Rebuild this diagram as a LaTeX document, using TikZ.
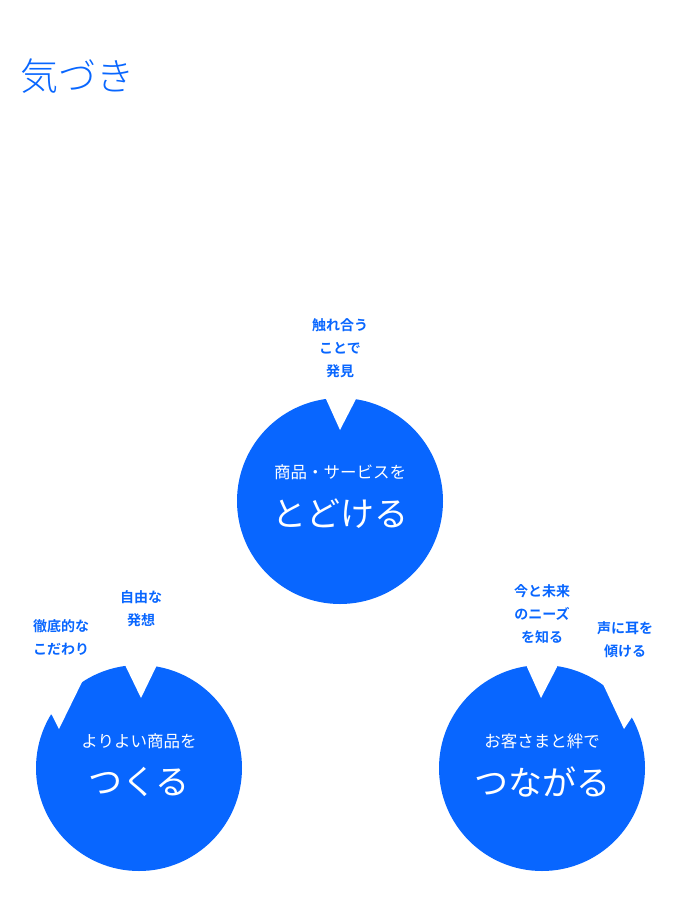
\documentclass[tikz,border=0pt]{standalone}
\usepackage{fontspec}
\setmainfont{Noto Sans CJK JP}
\newfontfamily\jpb{Noto Sans CJK JP Bold}
\newfontfamily\jpl{Noto Sans CJK JP Light}
\begin{document}
\begin{tikzpicture}[x=1pt,y=-1pt,
  lbl/.style={text=cblue,font=\jpb\fontsize{14}{23}\selectfont,align=center,inner sep=0},
  sub/.style={text=white,font=\fontsize{16.5}{20}\selectfont,inner sep=0},
  big/.style={text=white,font=\fontsize{34}{40}\selectfont,inner sep=0},
  bub/.style={fill=cblue,draw=none}]
\definecolor{cblue}{HTML}{0866FF}
\useasboundingbox (0,0) rectangle (680,907);
\node[text=cblue,font=\jpl\fontsize{38}{40}\selectfont,anchor=west,inner sep=0] (title) at (20,76) {気づき};
% top
\fill[cblue] (340,501) circle (103);
\fill[white] (322,390) -- (326,399) -- (340,430) -- (356,399) -- (360,390) -- cycle;
% left
\fill[cblue] (139,768) circle (103);
\fill[white] (122,658) -- (126,667) -- (141,698) -- (156,667) -- (160,658) -- cycle;
\fill[white] (83,680) -- (59,729) -- (52,715) -- (30,700) -- (60,660) -- cycle;
% right
\fill[cblue] (542,768) circle (103);
\fill[white] (523,658) -- (527,667) -- (541,698) -- (557,667) -- (561,658) -- cycle;
\fill[white] (602,682) -- (624,729) -- (632,717) -- (655,700) -- (625,660) -- cycle;
\node[sub] (t1) at (340,472) {商品・サービスを};
\node[big] (t2) at (340,514) {とどける};
\node[sub] (l1) at (139,741) {よりよい商品を};
\node[big] (l2) at (139,782) {つくる};
\node[sub] (r1) at (542,741) {お客さまと絆で};
\node[big] (r2) at (542,782) {つながる};
\node[lbl] (a) at (340,348) {触れ合う\\ことで\\発見};
\node[lbl] (b) at (141,609) {自由な\\発想};
\node[lbl] (c) at (61,637) {徹底的な\\こだわり};
\node[lbl] (d) at (542,614) {今と未来\\のニーズ\\を知る};
\node[lbl] (e) at (625,640) {声に耳を\\傾ける};
\end{tikzpicture}
\end{document}
